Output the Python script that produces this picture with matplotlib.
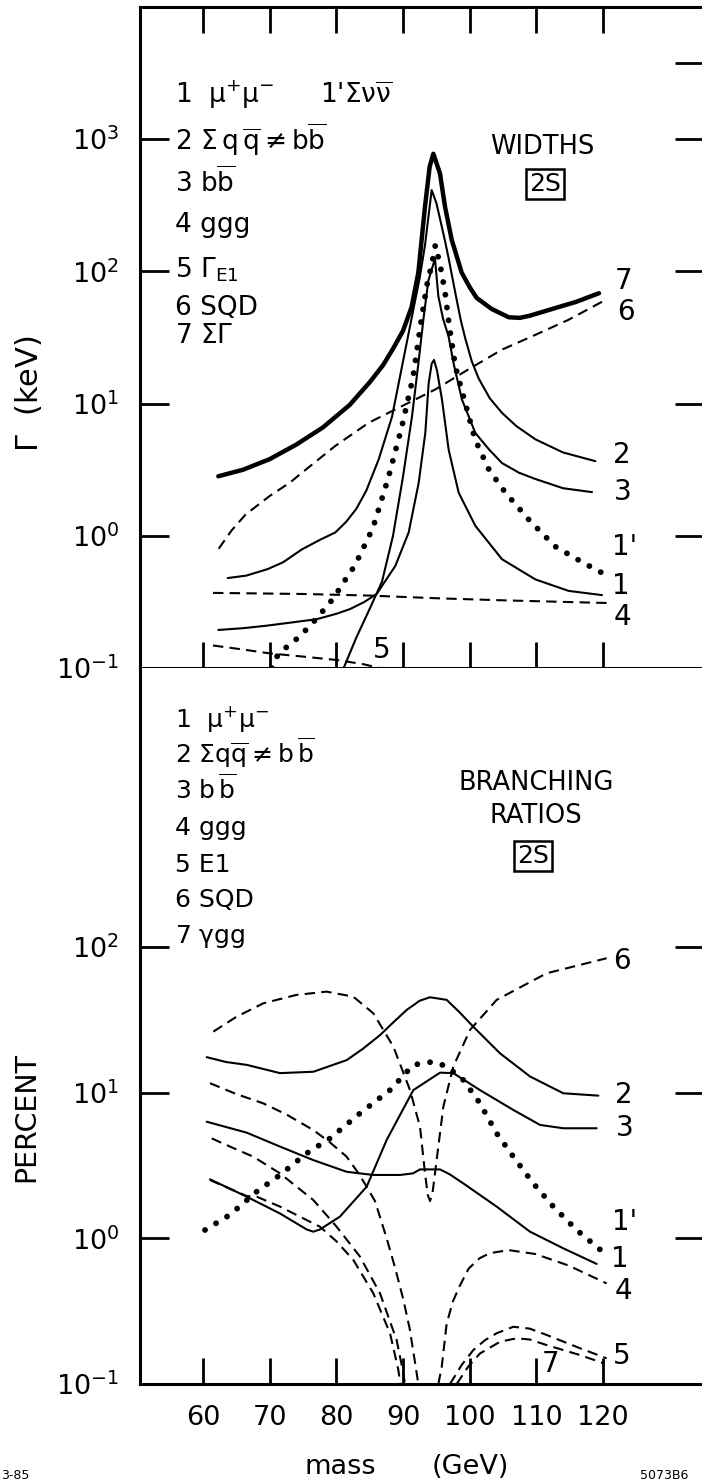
import matplotlib.pyplot as plt
from matplotlib.ticker import NullLocator

plt.rcParams['font.family'] = 'DejaVu Sans'
plt.rcParams['mathtext.fontset'] = 'dejavusans'
plt.rcParams['mathtext.default'] = 'regular'

# ---------------- widths, keV (upper panel) ----------------
tot_m = [62.3, 66, 70, 74, 78, 82, 85, 87, 88.5, 90, 91.3, 92.3, 93.3, 94.0, 94.55, 95.55, 96.3,
         97.3, 98.8, 100, 101.05, 103.3, 105.85, 107.5, 109, 112, 116, 119.4]
tot_w = [2.82, 3.16, 3.80, 4.90, 6.61, 9.77, 14.5, 19.5, 26, 35.5, 54, 98, 309, 620, 776, 550, 309,
         174, 98, 76, 63, 52, 45, 44.5, 46.2, 51.3, 58.9, 68.4]

qq_m = [63.7, 66.5, 69.7, 72, 74.85, 77.5, 79.85, 81.5, 83, 84.5, 86.35, 88.35, 89.85, 91.35, 92.5,
        93.3, 94.3, 95.0, 95.55, 96.3, 96.8, 97.4, 98.05, 98.7, 99.35, 100.3, 101.35, 103, 104.85,
        107, 109.85, 114, 118.85]
qq_w = [0.479, 0.50, 0.56, 0.63, 0.79, 0.93, 1.06, 1.28, 1.6, 2.2, 3.78, 7.94, 19.1, 45.7, 89.1,
        158, 412, 330, 250, 170, 129, 90, 61, 42, 31, 21, 15.5, 11, 8.51,
        6.76, 5.37, 4.27, 3.67]

bb_m = [81.1, 83, 85, 86.85, 88.5, 90, 91.35, 92.3, 93.1, 93.8, 94.8, 95.3, 96.0, 96.85, 97.6,
        98.85, 100.85, 102.9, 104.85, 107.4, 109.85, 114, 118.35]
bb_w = [0.1, 0.17, 0.28, 0.45, 1.0, 2.8, 8.0, 20, 45, 85, 125, 65, 44, 32, 20,
        10.7, 6.0, 4.5, 3.55, 3.0, 2.69, 2.29, 2.14]

mu_m = [62.3, 66, 69.55, 73.3, 77.05, 80, 82.05, 84.2, 86.05, 87.5, 88.85, 90.85, 92.35, 93.35,
        93.85, 94.3, 94.65, 95.1, 95.85, 96.85, 98.35, 100.85, 104.85, 109.85, 114.85, 119.85]
mu_w = [0.194, 0.2, 0.209, 0.221, 0.234, 0.257, 0.279, 0.316, 0.363, 0.468, 0.592, 1.06, 2.51, 6.03,
        14.3, 20, 21.4, 17.8, 10.7, 4.47, 2.12, 1.19, 0.665, 0.468, 0.383, 0.356]

nu_m = [70.3, 71.3, 74.55, 77.05, 79.55, 81.55, 82.8, 85.5, 87.8, 89.8, 91.5, 92.8, 93.6, 94.3,
        94.85, 95.6, 96.3, 96.9, 97.85, 99.2, 100.8, 102.9, 105.3, 108.9, 112.8, 116.9, 120.2]
nu_w = [0.1, 0.128, 0.174, 0.237, 0.336, 0.483, 0.598, 1.15, 2.75, 6.61, 15.8, 44.7, 79.4, 112,
        158, 110, 70, 40, 19.1, 10.7, 5.37, 3.16, 2.14, 1.32, 0.832, 0.631, 0.513]

sqd_m = [62.35, 64.3, 66.4, 70, 73.1, 74.85, 79.85, 84.85, 89.8, 94.85, 99.85, 104.85, 109.85,
         114.85, 119.85]
sqd_w = [0.798, 1.1, 1.45, 2.0, 2.54, 3.0, 4.79, 7.16, 9.55, 12.8, 18.2, 25.6, 33.1, 43.1, 58.9]

ggg_m = [61.5, 75, 85, 95, 105, 120.8]
ggg_w = [0.37, 0.363, 0.353, 0.337, 0.325, 0.31]

e1_m = [61.5, 66, 70, 75, 80, 84, 86.5]
e1_w = [0.148, 0.138, 0.129, 0.122, 0.115, 0.107, 0.1]

# ---------------- branching ratios, percent (lower panel) ----------------
br_qq_m = [60.55, 63.5, 66.55, 71.55, 76.55, 81.55, 84, 86.55, 88.5, 90.55, 92.5, 94.05, 96.55,
           98.5, 100.55, 104.55, 109.05, 114.05, 119.3]
br_qq = [17.5, 16.2, 15.5, 13.6, 13.9, 16.7, 20.0, 24.8, 30.2, 36.9, 42.7, 45.1, 43.3,
         35.5, 28.3, 18.6, 12.9, 9.89, 9.53]

br_bb_m = [61.05, 66.55, 71.55, 75.55, 76.55, 77.55, 80.55, 84.55, 87.55, 91.55, 95.55, 97.55,
           101.55, 106.55, 110.55, 114.05, 119.05]
br_bb = [2.54, 1.93, 1.48, 1.15, 1.11, 1.15, 1.41, 2.26, 4.73, 10.4, 13.7, 13.6,
         10.4, 7.6, 6.0, 5.69, 5.69]

br_mu_m = [60.55, 66.55, 71.55, 76.55, 81.55, 85.55, 89.55, 91.5, 92.55, 95.55, 97, 99.05,
           104.05, 109.05, 114.05, 119.05]
br_mu = [6.31, 5.31, 4.26, 3.44, 2.86, 2.72, 2.72, 2.79, 2.97, 2.97, 2.75, 2.38,
         1.65, 1.11, 0.853, 0.667]

br_nu_m = [60.3, 64.05, 68.05, 71.55, 75.55, 79.05, 83.55, 88.05, 91.55, 94.55, 96.55, 99.05,
           101.55, 104.05, 106.55, 109.55, 112.55, 116.05, 120.55]
br_nu = [1.14, 1.45, 2.09, 2.72, 3.83, 4.85, 7.21, 10.4, 15.5, 16.3, 15.1, 12.2,
         8.43, 5.25, 3.63, 2.38, 1.65, 1.14, 0.767]

br_sqd_m = [61.55, 65, 69.05, 74, 78.55, 82.55, 85.55, 88.55, 91.05, 92.55, 93.3, 93.7, 94.05,
            94.4, 94.8, 96.05, 97.55, 100.05, 104.05, 111.55, 120.55]
br_sqd = [26.2, 33.1, 41.0, 46.8, 49.3, 45.5, 35.0, 20.7, 10.4, 5.83, 2.8, 2.0, 1.8,
          2.0, 2.8, 8.0, 15.1, 26.9, 43.3, 65.9, 83.6]

br_ggg_lo_m = [61.05, 65, 69.05, 72.5, 76.55, 79, 81.55, 83.4, 84.55, 85.8, 87.55, 88.8, 90.05,
               91.0, 91.8, 92.3]
br_ggg_lo = [11.6, 9.77, 8.43, 7.08, 5.53, 4.57, 3.63, 2.76, 2.26, 1.80, 1.0, 0.631, 0.38,
             0.24, 0.141, 0.1]
br_ggg_hi_m = [95.3, 95.8, 96.55, 97.5, 98.5, 99.85, 101.5, 103, 105.85, 109.85, 114.85, 120.55]
br_ggg_hi = [0.1, 0.13, 0.26, 0.37, 0.47, 0.62, 0.73, 0.79, 0.83, 0.78, 0.65, 0.49]

br_e1_lo_m = [61.3, 64.5, 67.55, 71.55, 76.55, 80.05, 83.55, 86.55, 89.05, 89.95, 90.3]
br_e1_lo = [4.85, 4.17, 3.63, 2.79, 1.83, 1.20, 0.748, 0.419, 0.2, 0.125, 0.1]
br_e1_hi_m = [97.05, 98.8, 100.55, 102.3, 104.05, 106.55, 109, 111.55, 116.55, 120.55]
br_e1_hi = [0.1, 0.135, 0.171, 0.2, 0.223, 0.247, 0.24, 0.217, 0.176, 0.15]

br_ygg_lo_m = [61.05, 66.55, 68.05, 71.55, 74.5, 77.55, 80, 82.55, 85.55, 88.05, 89.3, 89.6]
br_ygg_lo = [2.51, 1.95, 1.93, 1.65, 1.41, 1.20, 0.955, 0.71, 0.419, 0.223, 0.125, 0.1]
br_ygg_hi_m = [98.05, 99.8, 101.55, 104.55, 107.05, 109, 111.55, 116.55, 120.05]
br_ygg_hi = [0.1, 0.132, 0.162, 0.195, 0.206, 0.202, 0.185, 0.158, 0.139]

mass_ticks = [60, 70, 80, 90, 100, 110, 120]

# line styles
thin = dict(color='black', lw=1.5, solid_joinstyle='round', solid_capstyle='round')
thick = dict(color='black', lw=3.2, solid_joinstyle='round', solid_capstyle='round')
dash = dict(color='black', lw=1.5, linestyle=(0, (5, 3)))
dots = dict(color='black', lw=4.2, linestyle=(0, (0.01, 2.2)), dash_capstyle='round')

W, H = 702, 1484
fig = plt.figure(figsize=(W / 100, H / 100), dpi=100)


def add_axes_px(x0, y0, x1, y1):
    return fig.add_axes([x0 / W, 1 - y1 / H, (x1 - x0) / W, (y1 - y0) / H])


def fig_xy(px, py):
    return px / W, 1 - py / H


ax1 = add_axes_px(140, 7, 704, 668)
ax2 = add_axes_px(140, 668, 704, 1384)

for ax in (ax1, ax2):
    ax.set_yscale('log')
    ax.set_xlim(50.55, 135.15)
    ax.set_xticks(mass_ticks)
    ax.yaxis.set_minor_locator(NullLocator())
    for s in ax.spines.values():
        s.set_linewidth(2.2)
    ax.spines['right'].set_visible(False)
    ax.tick_params(axis='y', which='major', direction='in', length=21, width=2,
                   left=True, right=True, labelsize=19.5, pad=15)
    ax.tick_params(axis='x', which='major', direction='in', length=19, width=2,
                   labelsize=19.5, pad=15)

ax1.set_ylim(0.1, 1e4)
ax1.set_yticks([0.1, 1, 10, 100, 1000])
ax1.yaxis.set_minor_locator(NullLocator())
ax1.tick_params(axis='x', top=True, bottom=True, labelbottom=False)
ax1.tick_params(axis='y', right=False)
sec = ax1.secondary_yaxis('right')
sec.set_yticks([1, 10, 100, 1000, 3800])
sec.yaxis.set_minor_locator(NullLocator())
sec.tick_params(direction='in', length=21, width=2, labelright=False)
sec.spines['right'].set_visible(False)

ax2.set_ylim(0.1, 10 ** 3.914)
ax2.set_yticks([0.1, 1, 10, 100])
ax2.yaxis.set_minor_locator(NullLocator())
ax2.spines['top'].set_visible(False)
ax2.tick_params(axis='x', top=False)

# widths
ax1.plot(tot_m, tot_w, **thick)
ax1.plot(qq_m, qq_w, **thin)
ax1.plot(bb_m, bb_w, **thin)
ax1.plot(mu_m, mu_w, **thin)
ax1.plot(nu_m, nu_w, **dots)
ax1.plot(sqd_m, sqd_w, **dash)
ax1.plot(ggg_m, ggg_w, **dash)
ax1.plot(e1_m, e1_w, **dash)

# branching ratios
ax2.plot(br_qq_m, br_qq, **thin)
ax2.plot(br_bb_m, br_bb, **thin)
ax2.plot(br_mu_m, br_mu, **thin)
ax2.plot(br_nu_m, br_nu, **dots)
ax2.plot(br_sqd_m, br_sqd, **dash)
ax2.plot(br_ggg_lo_m, br_ggg_lo, **dash)
ax2.plot(br_ggg_hi_m, br_ggg_hi, **dash)
ax2.plot(br_e1_lo_m, br_e1_lo, **dash)
ax2.plot(br_e1_hi_m, br_e1_hi, **dash)
ax2.plot(br_ygg_lo_m, br_ygg_lo, **dash)
ax2.plot(br_ygg_hi_m, br_ygg_hi, **dash)

# curve numbers at the right
lab = dict(fontsize=20, ha='center', va='center')
for txt, m, v in [('7', 123.15, 84.7), ('6', 123.45, 49.4), ('2', 122.85, 4.12),
                  ('3', 123.0, 2.13), ("1'", 123.3, 0.818), ('1', 122.7, 0.416),
                  ('4', 122.85, 0.243), ('5', 86.85, 0.137)]:
    ax1.text(m, v, txt, **lab)
for txt, m, v in [('6', 122.85, 80), ('2', 123.15, 9.6), ('3', 123.3, 5.7),
                  ("1'", 123.3, 1.29), ('1', 122.55, 0.72), ('4', 123.0, 0.435),
                  ('5', 122.85, 0.156), ('7', 112.1, 0.137)]:
    ax2.text(m, v, txt, **lab)

# key of the upper panel
key1 = [(103, r'1  $\mu^{+}\mu^{-}$'),
        (150, r'2 $\Sigma\,q\,\overline{q}\neq b\overline{b}$'),
        (192, r'3 $b\overline{b}$'),
        (232, '4 ggg'),
        (278, r'5 $\Gamma_{E1}$'),
        (315, '6 SQD'),
        (343, r'7 $\Sigma\Gamma$')]
for py, txt in key1:
    fig.text(*fig_xy(175, py), txt, fontsize=19, ha='left', va='baseline')
fig.text(*fig_xy(320, 103), r"1'$\Sigma\nu\overline{\nu}$", fontsize=19, ha='left',
         va='baseline')

key2 = [(727, r'1  $\mu^{+}\mu^{-}$'),
        (763, r'2 $\Sigma q\overline{q}\neq b\,\overline{b}$'),
        (799, r'3 $b\,\overline{b}$'),
        (835, '4 ggg'),
        (872, '5 E1'),
        (907, '6 SQD'),
        (943, r'7 $\gamma$gg')]
for py, txt in key2:
    fig.text(*fig_xy(175, py), txt, fontsize=18, ha='left', va='baseline')

box = dict(boxstyle='square,pad=0.12', fc='none', ec='black', lw=1.8)
fig.text(*fig_xy(542, 147), 'WIDTHS', fontsize=18.5, ha='center', va='center')
fig.text(*fig_xy(545, 184), '2S', fontsize=18, ha='center', va='center', bbox=box)
fig.text(*fig_xy(536, 783), 'BRANCHING', fontsize=18.5, ha='center', va='center')
fig.text(*fig_xy(536, 816), 'RATIOS', fontsize=18.5, ha='center', va='center')
fig.text(*fig_xy(533, 856), '2S', fontsize=18, ha='center', va='center', bbox=box)

# axis titles
fig.text(*fig_xy(29, 394), r'$\Gamma$  (keV)', fontsize=22, rotation=90,
         ha='center', va='center')
fig.text(*fig_xy(26, 1117), 'PERCENT', fontsize=20.5, rotation=90,
         ha='center', va='center')
fig.text(*fig_xy(340, 1467), 'mass', fontsize=19.5, ha='center', va='center')
fig.text(*fig_xy(470, 1467), '(GeV)', fontsize=19.5, ha='center', va='center')

# plate numbers in the corners
fig.text(*fig_xy(1, 1482), '3-85', fontsize=9, ha='left', va='bottom')
fig.text(*fig_xy(640, 1482), '5073B6', fontsize=9, ha='left', va='bottom')

fig.savefig('out.png', dpi=100)
